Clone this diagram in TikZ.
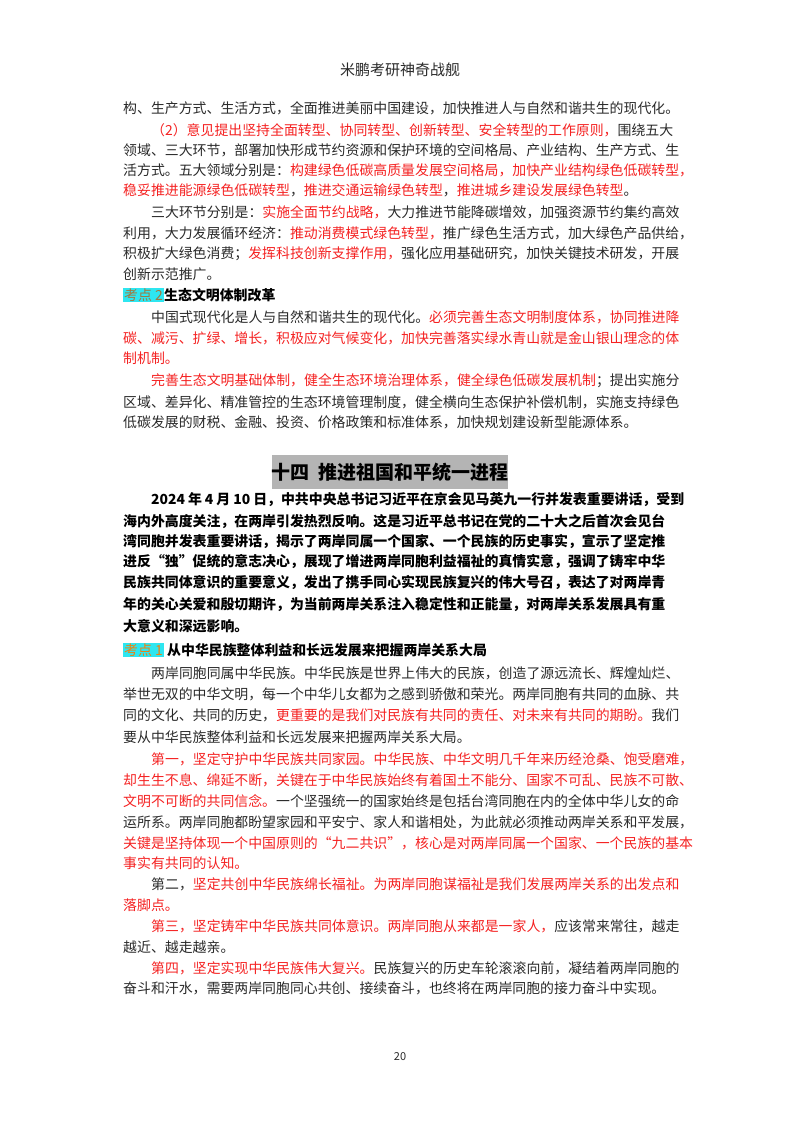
\documentclass[tikz,border=0pt]{standalone}
\usepackage{fontspec}
\setmainfont{Noto Sans CJK SC}
\XeTeXlinebreaklocale "zh"
\XeTeXlinebreakskip=0pt plus 4pt
\definecolor{txt}{HTML}{2A2A2A}
\definecolor{rd}{HTML}{F52222}
\definecolor{hl}{HTML}{2EE6F0}
\definecolor{kd}{HTML}{A07840}
\definecolor{tbg}{HTML}{B4B4B4}
\newcommand\R[1]{{\color{rd}#1}}
\newcommand\Ln[2]{\node[line] at (123,#1) {\hbox to 580pt{#2}};}
\newcommand\Li[2]{\node[line] at (151,#1) {\hbox to 552pt{#2}};}
\newcommand\Ll[2]{\node[line] at (123,#1) {#2};}
\newcommand\Lli[2]{\node[line] at (151,#1) {#2};}
\newcommand\Bn[2]{\node[bline] at (123,#1) {\hbox to 580pt{#2}};}
\newcommand\Bi[2]{\node[bline] at (151,#1) {\hbox to 552pt{#2}};}
\newcommand\Bl[2]{\node[bline] at (123,#1) {#2};}
\begin{document}
\begin{tikzpicture}[x=1pt,y=-1pt,
  line/.style={anchor=west,inner sep=0pt,text=txt,font=\fontsize{13.9}{16}\selectfont},
  bline/.style={anchor=west,inner sep=0pt,text=black,font=\fontsize{13.9}{16}\selectfont\bfseries},
  kd/.style={fill=hl,inner sep=1pt,anchor=west,text=kd,font=\fontsize{13.9}{16}\selectfont}]
\path[use as bounding box,fill=white] (0,0) rectangle (800,1132);
\node[text=txt,font=\fontsize{15}{18}\selectfont] (hdr) at (400,70) {米鹏考研神奇战舰};
\Ln{108}{构、生产方式、生活方式，全面推进美丽中国建设，加快推进人与自然和谐共生的现代化。}
\Li{130}{\R{（2）意见提出坚持全面转型、协同转型、创新转型、安全转型的工作原则，}围绕五大}
\Ln{150}{领域、三大环节，部署加快形成节约资源和保护环境的空间格局、产业结构、生产方式、生}
\Ln{170}{活方式。五大领域分别是：\R{构建绿色低碳高质量发展空间格局，加快产业结构绿色低碳转型，}}
\Ll{190}{\R{稳妥推进能源绿色低碳转型}，\R{推进交通运输绿色转型}，\R{推进城乡建设发展绿色转型}。}
\Li{212}{三大环节分别是：\R{实施全面节约战略，}大力推进节能降碳增效，加强资源节约集约高效}
\Ln{233}{利用，大力发展循环经济：\R{推动消费模式绿色转型，}推广绿色生活方式，加大绿色产品供给，}
\Ln{254}{积极扩大绿色消费；\R{发挥科技创新支撑作用，}强化应用基础研究，加快关键技术研发，开展}
\Ll{274}{创新示范推广。}
\node[kd] (k2) at (123,295) {考点 2};
\node[bline] (k2t) at (k2.east) {生态文明体制改革};
\Li{317}{中国式现代化是人与自然和谐共生的现代化。\R{必须完善生态文明制度体系，协同推进降}}
\Ln{338}{\R{碳、减污、扩绿、增长，积极应对气候变化，加快完善落实绿水青山就是金山银山理念的体}}
\Ll{358}{\R{制机制。}}
\Li{381}{\R{完善生态文明基础体制，健全生态环境治理体系，健全绿色低碳发展机制}；提出实施分}
\Ln{402}{区域、差异化、精准管控的生态环境管理制度，健全横向生态保护补偿机制，实施支持绿色}
\Ll{422}{低碳发展的财税、金融、投资、价格政策和标准体系，加快规划建设新型能源体系。}
\node[fill=tbg,minimum width=236pt,minimum height=34pt,inner sep=0pt,font=\fontsize{19}{22}\selectfont\bfseries,text=black] (ttl) at (390,472) {十四\ \ 推进祖国和平统一进程};
\Bi{500}{2024\kern3pt 年\kern3pt 4\kern3pt 月\kern3pt 10\kern3pt 日，中共中央总书记习近平在京会见马英九一行并发表重要讲话，受到}
\Bn{521}{海内外高度关注，在两岸引发热烈反响。这是习近平总书记在党的二十大之后首次会见台}
\Bn{542}{湾同胞并发表重要讲话，揭示了两岸同属一个国家、一个民族的历史事实，宣示了坚定推}
\Bn{562}{进反“独”促统的意志决心，展现了增进两岸同胞利益福祉的真情实意，强调了铸牢中华}
\Bn{583}{民族共同体意识的重要意义，发出了携手同心实现民族复兴的伟大号召，表达了对两岸青}
\Bn{605}{年的关心关爱和殷切期许，为当前两岸关系注入稳定性和正能量，对两岸关系发展具有重}
\Bl{626}{大意义和深远影响。}
\node[kd,text=orange!80!brown] (k1) at (123,650) {考点 1};
\node[bline] (k1t) at ([xshift=3pt]k1.east) {从中华民族整体利益和长远发展来把握两岸关系大局};
\Li{673}{两岸同胞同属中华民族。中华民族是世界上伟大的民族，创造了源远流长、辉煌灿烂、}
\Ln{694}{举世无双的中华文明，每一个中华儿女都为之感到骄傲和荣光。两岸同胞有共同的血脉、共}
\Ln{715}{同的文化、共同的历史，\R{更重要的是我们对民族有共同的责任、对未来有共同的期盼。}我们}
\Ll{737}{要从中华民族整体利益和长远发展来把握两岸关系大局。}
\Li{759}{\R{第一，坚定守护中华民族共同家园。中华民族、中华文明几千年来历经沧桑、饱受磨难，}}
\Ln{780}{\R{却生生不息、绵延不断，关键在于中华民族始终有着国土不能分、国家不可乱、民族不可散、}}
\Ln{801}{\R{文明不可断的共同信念。}一个坚强统一的国家始终是包括台湾同胞在内的全体中华儿女的命}
\Ln{822}{运所系。两岸同胞都盼望家园和平安宁、家人和谐相处，为此就必须推动两岸关系和平发展，}
\Ln{843}{\R{关键是坚持体现一个中国原则的“九二共识”，核心是对两岸同属一个国家、一个民族的基本}}
\Ll{863}{\R{事实有共同的认知。}}
\Li{884}{第二，\R{坚定共创中华民族绵长福祉。为两岸同胞谋福祉是我们发展两岸关系的出发点和}}
\Ll{905}{\R{落脚点。}}
\Li{926}{\R{第三，坚定铸牢中华民族共同体意识。两岸同胞从来都是一家人，}应该常来常往，越走}
\Ll{947}{越近、越走越亲。}
\Li{968}{\R{第四，坚定实现中华民族伟大复兴。}民族复兴的历史车轮滚滚向前，凝结着两岸同胞的}
\Ll{988}{奋斗和汗水，需要两岸同胞同心共创、接续奋斗，也终将在两岸同胞的接力奋斗中实现。}
\node[text=txt,font=\fontsize{11}{13}\selectfont] (pg) at (400,1057) {20};
\end{tikzpicture}
\end{document}
